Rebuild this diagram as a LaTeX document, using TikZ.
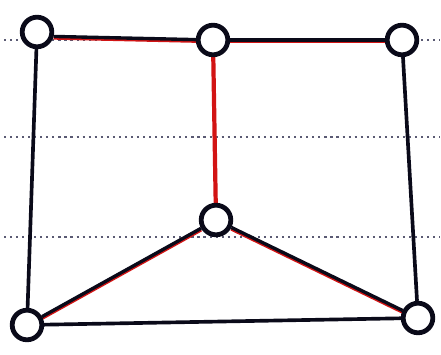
\documentclass[tikz,border=0pt]{standalone}
\usepackage{xcolor}
\usetikzlibrary{positioning, backgrounds}
\definecolor{inkblack}{RGB}{10, 10, 25}
\definecolor{inkred}{RGB}{210, 20, 20}
\definecolor{rulegray}{RGB}{90, 90, 115}

\begin{document}
\begin{tikzpicture}[
  vertex/.style={circle, draw=inkblack, line width=3.4pt, fill=white, minimum size=7.4mm, inner sep=0pt},
  plainedge/.style={draw=inkblack, line width=2.6pt},
  treeedge/.style={draw=inkblack, line width=2.4pt,
    preaction={draw=inkred, line width=2.8pt, transform canvas={yshift=-0.9pt}}},
  ruling/.style={rulegray, line width=1.5pt, dash pattern=on 1.5pt off 2.8pt}
]
  \useasboundingbox (0, 0) rectangle (11.025, 8.875);
  % vertices
  \node[vertex] (tl) at (0.925, 8.075) {};
  \node[vertex] (tm) at (5.325, 7.875) {};
  \node[vertex] (tr) at (10.05, 7.875) {};
  \node[vertex] (md) at (5.4, 3.375) {};
  \node[vertex] (bl) at (0.675, 0.75) {};
  \node[vertex] (br) at (10.45, 0.925) {};
  \begin{scope}[on background layer]
    \fill[white] (0, 0) rectangle (11.025, 8.875);
    % notebook rulings
    \foreach \y in {7.875, 5.45, 2.95} {
      \draw[ruling] (0.1, \y) -- (11.0, \y);
    }
    % edges
    \draw[plainedge] (tl) -- (bl);
    \draw[plainedge] (tr) -- (br);
    \draw[plainedge] (bl) -- (br);
    \draw[treeedge] (tl.-15) -- (tm);
    \draw[treeedge] (tm) -- (tr);
    \draw[inkred, line width=3pt] (tm) -- (md);
    \draw[treeedge] (md) -- (bl);
    \draw[treeedge] (md) -- (br);
  \end{scope}
\end{tikzpicture}
\end{document}
